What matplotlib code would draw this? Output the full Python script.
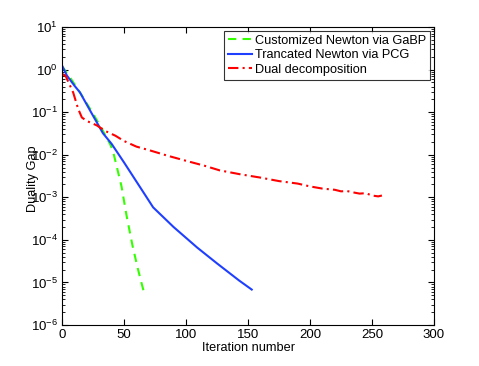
import matplotlib
matplotlib.use("Agg")
import matplotlib.pyplot as plt
import numpy as np

plt.rcParams['font.family'] = ['Liberation Sans', 'DejaVu Sans']

gabp_x = [0, 6.5, 14.5, 22.6, 30.6, 38.7, 41, 44, 48, 52, 57, 61, 64, 66]
gabp_y = [1.2, 0.65, 0.29, 0.12, 0.049, 0.018, 0.0125, 5.5e-3, 1.8e-3, 3.8e-4, 7e-5, 2.2e-5, 1e-5, 6e-6]

pcg_x = [0, 4, 10, 14.5, 20, 24, 28, 33, 40, 50, 57, 65, 73.5, 90, 109, 125, 143, 153]
pcg_y = [1.25, 0.72, 0.42, 0.29, 0.15, 0.093, 0.058, 0.032, 0.018, 6.6e-3, 3.2e-3, 1.4e-3, 5.8e-4, 2e-4, 6.6e-5, 2.8e-5, 1.1e-5, 6.8e-6]

dual_x = [0, 3, 9, 13, 16, 20, 28, 35, 43, 50, 60, 71, 85, 100, 115, 127, 143, 160, 175, 190, 200, 210, 220, 225, 230, 235, 240, 245, 250, 255, 258]
dual_y = [0.8, 0.7, 0.29, 0.12, 0.075, 0.062, 0.049, 0.036, 0.028, 0.021, 0.0155, 0.0126, 0.0095, 0.0072, 0.0055, 0.0043, 0.0035, 0.0029, 0.0024, 0.0021, 0.0018, 0.0016, 0.0015, 0.00138, 0.0014, 0.0013, 0.00122, 0.00125, 0.0011, 0.00105, 0.0011]

labels = ['Customized Newton via GaBP', 'Trancated Newton via PCG', 'Dual decomposition']

fig = plt.figure(figsize=(4.79, 3.66), dpi=100)
ax = fig.add_axes([62/479, 1 - 325/366, (434-62)/479, (325-27)/366])

ax.semilogy(gabp_x, gabp_y, color='#33ff00', linestyle=(0, (4, 3)), lw=1.5, label=labels[0])
ax.semilogy(pcg_x, pcg_y, color='#1f3fff', linestyle='-', lw=1.5, label=labels[1])
ax.semilogy(dual_x, dual_y, color='#ff0000', linestyle=(0, (5, 2, 1, 2)), lw=1.5, label=labels[2])

ax.set_xlim(0, 300)
ax.set_ylim(1e-6, 1e1)
ax.set_xticks([0, 50, 100, 150, 200, 250, 300])
ax.set_yticks([10.0**k for k in range(-6, 2)])
ax.tick_params(which='both', direction='in', top=True, right=True, labelsize=9.5)
ax.tick_params(which='major', length=4, pad=3)
ax.tick_params(which='minor', length=2)
for s in ax.spines.values():
    s.set_linewidth(0.8)

ax.set_xlabel('Iteration number', fontsize=9.2)
ax.xaxis.set_label_coords(0.5, -(348 - 325) / 298, transform=ax.transAxes)
ax.xaxis.label.set_va('center')
ax.set_ylabel('Duality Gap', fontsize=9.2)
ax.yaxis.set_label_coords(-(62 - 39) / 372, 0.49)

leg = ax.legend(loc='upper right', fontsize=9.2, frameon=True, fancybox=False,
                edgecolor='black', handlelength=1.9, handletextpad=0.25,
                borderpad=0.3, labelspacing=0.2, borderaxespad=0.3)
leg.get_frame().set_linewidth(0.8)

fig.savefig('out.png', dpi=100)
